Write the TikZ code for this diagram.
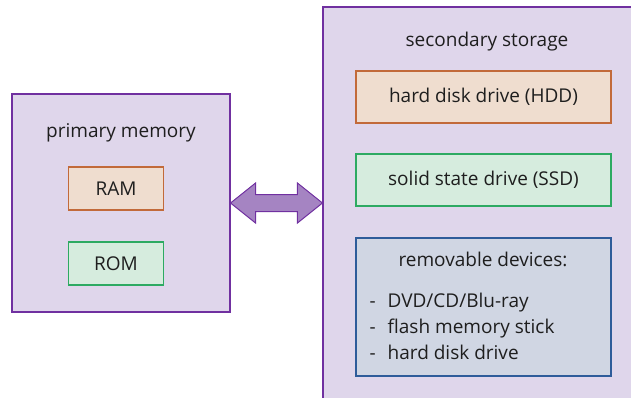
\documentclass[tikz,border=0pt]{standalone}
\usepackage{fontspec}
\setmainfont{Open Sans}
\usepackage{tikz}
\usetikzlibrary{calc}

\definecolor{lilac}{HTML}{DFD6EB}
\definecolor{plum}{HTML}{7030A0}
\definecolor{plumarrow}{HTML}{A584C2}
\definecolor{peach}{HTML}{EFDDCF}
\definecolor{rust}{HTML}{C26A3A}
\definecolor{mint}{HTML}{D6ECDE}
\definecolor{leaf}{HTML}{2DAA62}
\definecolor{steel}{HTML}{D0D6E3}
\definecolor{navy}{HTML}{2E5C9A}
\definecolor{ink}{HTML}{1E1E1E}

\begin{document}
\begin{tikzpicture}[x=1pt, y=-1pt, line width=1.1pt,
    every node/.style={text=ink, font=\fontsize{19}{26}\selectfont},
    group/.style={draw=plum, fill=lilac, inner sep=0pt},
    part/.style={draw=#1, inner sep=0pt, minimum height=43pt, minimum width=95pt},
    drive/.style={draw=#1, inner sep=0pt, minimum height=52pt, minimum width=255pt}]
    \clip (0,0) rectangle (631,397);

    % primary memory
    \node[group, minimum width=218pt, minimum height=218pt] (prim) at (121,203) {};
    \node (primlabel) at (121,133) {primary memory};
    \node[part=rust, fill=peach] (ram) at (116,188.5) {RAM};
    \node[part=leaf, fill=mint] (rom) at (116,263.5) {ROM};

    % secondary storage (runs off the page)
    \node[group, minimum width=322pt, minimum height=403pt] (sec) at (484,208.5) {};
    \node (seclabel) at (487,42) {secondary storage};
    \node[drive=rust, fill=peach] (hdd) at (483.5,97) {hard disk drive (HDD)};
    \node[drive=leaf, fill=mint] (ssd) at (483.5,180) {solid state drive (SSD)};
    \node[drive=navy, fill=steel, minimum height=138pt] (rem) at (483.5,307) {};
    \node (remlabel) at (483,259) {removable devices:};
    \node[anchor=west, align=left, inner sep=0pt] (remlist) at (369,326)
        {-\hspace{12pt}DVD/CD/Blu-ray\\-\hspace{12pt}flash memory stick\\-\hspace{12pt}hard disk drive};

    % two-way link
    \draw[plum, fill=plumarrow, line width=1pt]
        (prim.east)
        -- ++(25,-20) -- ++(0,11.5) coordinate (a)
        -- ($(sec.west |- a)+(-25,0)$) -- ++(0,-11.5)
        -- (sec.west |- prim.east)
        -- ++(-25,20) -- ++(0,-11.5) coordinate (b)
        -- ($(prim.east |- b)+(25,0)$) -- ++(0,11.5) -- cycle;
\end{tikzpicture}
\end{document}
